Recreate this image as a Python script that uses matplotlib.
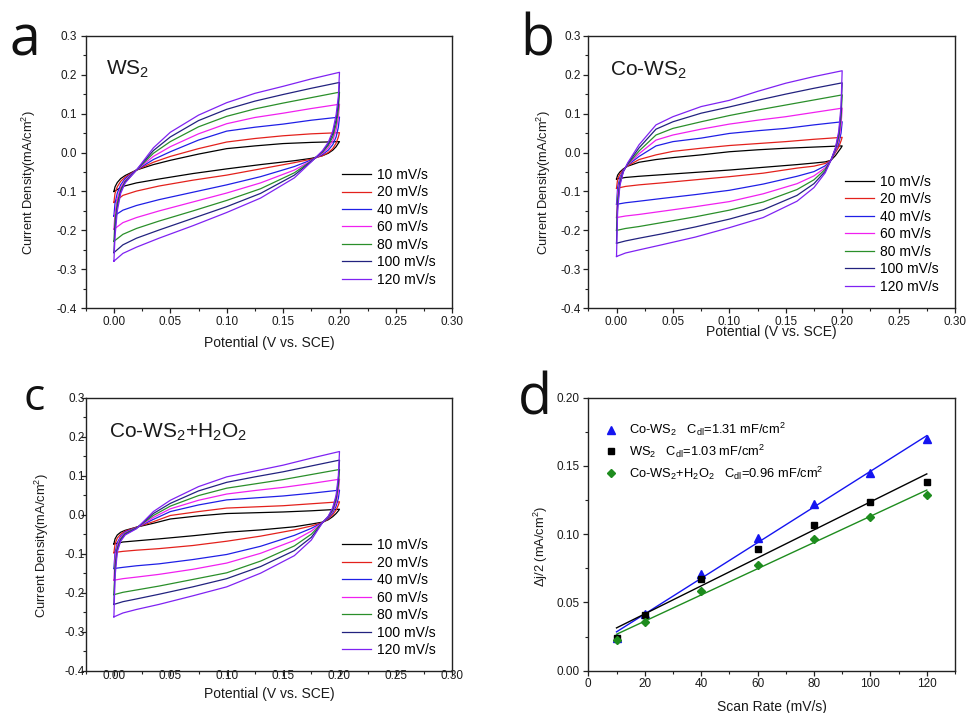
import matplotlib

matplotlib.use("Agg")

import matplotlib.pyplot as plt
import numpy as np
from matplotlib.ticker import FormatStrFormatter, MultipleLocator

plt.rcParams["font.family"] = ["Liberation Sans", "DejaVu Sans"]
plt.rcParams["mathtext.fontset"] = "custom"
plt.rcParams["mathtext.rm"] = "Liberation Sans"
plt.rcParams["mathtext.it"] = "Liberation Sans:italic"
plt.rcParams["axes.unicode_minus"] = False

# scan rates shared by the three CV panels
scan_labels = ["10 mV/s", "20 mV/s", "40 mV/s", "60 mV/s", "80 mV/s", "100 mV/s", "120 mV/s"]

# potential grid (V vs. SCE) read along the forward and reverse sweeps
x_fwd = [0.000, 0.001, 0.003, 0.006, 0.010, 0.020, 0.035, 0.050, 0.075, 0.100, 0.125, 0.150, 0.175, 0.200]
x_rev = [0.200, 0.199, 0.197, 0.194, 0.190, 0.185, 0.175, 0.160, 0.130, 0.100, 0.070, 0.040, 0.020, 0.008, 0.000]

# panel a: WS2 (mA/cm2), one row per scan rate
ws2_fwd = [
    [-0.100, -0.088, -0.077, -0.067, -0.059, -0.045, -0.031, -0.020, -0.004, 0.010, 0.017, 0.023, 0.026, 0.028],
    [-0.128, -0.105, -0.088, -0.074, -0.063, -0.045, -0.025, -0.010, 0.010, 0.027, 0.036, 0.043, 0.048, 0.051],
    [-0.163, -0.130, -0.104, -0.083, -0.067, -0.045, -0.018, 0.002, 0.032, 0.055, 0.065, 0.073, 0.083, 0.091],
    [-0.197, -0.155, -0.118, -0.090, -0.071, -0.045, -0.010, 0.015, 0.048, 0.074, 0.090, 0.101, 0.113, 0.124],
    [-0.228, -0.175, -0.130, -0.096, -0.074, -0.045, -0.002, 0.028, 0.066, 0.093, 0.112, 0.127, 0.141, 0.155],
    [-0.257, -0.195, -0.140, -0.100, -0.076, -0.045, 0.005, 0.040, 0.082, 0.111, 0.132, 0.149, 0.165, 0.180],
    [-0.279, -0.215, -0.150, -0.105, -0.078, -0.045, 0.012, 0.052, 0.096, 0.128, 0.152, 0.170, 0.189, 0.206],
]
ws2_rev = [
    [0.028, 0.024, 0.015, 0.006, -0.002, -0.008, -0.015, -0.021, -0.031, -0.042, -0.054, -0.068, -0.078, -0.087, -0.100],
    [0.051, 0.040, 0.024, 0.010, 0.000, -0.008, -0.017, -0.026, -0.042, -0.058, -0.071, -0.086, -0.099, -0.110, -0.128],
    [0.091, 0.065, 0.040, 0.020, 0.006, -0.005, -0.019, -0.036, -0.062, -0.083, -0.102, -0.121, -0.136, -0.148, -0.163],
    [0.124, 0.090, 0.058, 0.030, 0.012, -0.002, -0.021, -0.045, -0.078, -0.104, -0.127, -0.150, -0.167, -0.180, -0.197],
    [0.155, 0.110, 0.072, 0.040, 0.018, 0.001, -0.022, -0.052, -0.093, -0.123, -0.150, -0.176, -0.195, -0.210, -0.228],
    [0.180, 0.128, 0.085, 0.048, 0.022, 0.003, -0.023, -0.058, -0.105, -0.139, -0.169, -0.199, -0.220, -0.237, -0.257],
    [0.206, 0.145, 0.097, 0.055, 0.026, 0.005, -0.024, -0.065, -0.117, -0.154, -0.188, -0.220, -0.243, -0.259, -0.279],
]

# panel b: Co-WS2
cows2_fwd = [
    [-0.068, -0.058, -0.050, -0.042, -0.035, -0.025, -0.018, -0.013, -0.006, 0.002, 0.007, 0.011, 0.014, 0.017],
    [-0.092, -0.068, -0.055, -0.044, -0.034, -0.018, -0.006, 0.003, 0.011, 0.018, 0.023, 0.028, 0.034, 0.039],
    [-0.133, -0.090, -0.064, -0.045, -0.032, -0.010, 0.017, 0.028, 0.037, 0.049, 0.056, 0.062, 0.071, 0.079],
    [-0.167, -0.105, -0.070, -0.047, -0.031, -0.003, 0.032, 0.045, 0.060, 0.073, 0.083, 0.092, 0.103, 0.114],
    [-0.200, -0.120, -0.075, -0.048, -0.030, 0.004, 0.045, 0.062, 0.079, 0.095, 0.109, 0.122, 0.135, 0.148],
    [-0.233, -0.135, -0.080, -0.049, -0.028, 0.012, 0.060, 0.079, 0.101, 0.117, 0.134, 0.150, 0.165, 0.179],
    [-0.267, -0.150, -0.085, -0.050, -0.026, 0.020, 0.071, 0.092, 0.118, 0.134, 0.157, 0.178, 0.195, 0.210],
]
cows2_rev = [
    [0.017, 0.012, 0.004, -0.008, -0.020, -0.024, -0.027, -0.031, -0.038, -0.045, -0.051, -0.057, -0.061, -0.064, -0.068],
    [0.039, 0.030, 0.014, 0.000, -0.020, -0.028, -0.035, -0.040, -0.053, -0.062, -0.070, -0.078, -0.083, -0.087, -0.092],
    [0.079, 0.050, 0.024, 0.003, -0.020, -0.034, -0.049, -0.061, -0.081, -0.097, -0.108, -0.118, -0.125, -0.129, -0.133],
    [0.114, 0.070, 0.032, 0.005, -0.020, -0.039, -0.060, -0.080, -0.106, -0.126, -0.139, -0.151, -0.159, -0.163, -0.167],
    [0.148, 0.090, 0.040, 0.008, -0.020, -0.043, -0.070, -0.095, -0.127, -0.148, -0.165, -0.180, -0.190, -0.195, -0.200],
    [0.179, 0.105, 0.048, 0.010, -0.020, -0.048, -0.080, -0.110, -0.147, -0.171, -0.191, -0.209, -0.220, -0.227, -0.233],
    [0.210, 0.120, 0.055, 0.012, -0.020, -0.052, -0.090, -0.125, -0.167, -0.193, -0.217, -0.237, -0.250, -0.258, -0.267],
]

# panel c: Co-WS2 + H2O2
cows2h_fwd = [
    [-0.075, -0.062, -0.052, -0.045, -0.040, -0.032, -0.022, -0.011, -0.003, 0.003, 0.005, 0.007, 0.010, 0.014],
    [-0.098, -0.075, -0.060, -0.050, -0.042, -0.032, -0.018, -0.002, 0.008, 0.017, 0.020, 0.023, 0.028, 0.033],
    [-0.138, -0.098, -0.072, -0.055, -0.044, -0.033, -0.012, 0.008, 0.025, 0.038, 0.043, 0.048, 0.055, 0.063],
    [-0.168, -0.112, -0.078, -0.058, -0.046, -0.034, -0.007, 0.015, 0.037, 0.053, 0.062, 0.070, 0.080, 0.091],
    [-0.205, -0.130, -0.085, -0.062, -0.048, -0.034, -0.002, 0.022, 0.049, 0.068, 0.079, 0.090, 0.103, 0.116],
    [-0.230, -0.145, -0.090, -0.065, -0.050, -0.035, 0.003, 0.029, 0.061, 0.083, 0.097, 0.110, 0.125, 0.140],
    [-0.262, -0.160, -0.095, -0.068, -0.052, -0.036, 0.008, 0.037, 0.072, 0.097, 0.112, 0.127, 0.145, 0.162],
]
cows2h_rev = [
    [0.014, 0.010, 0.003, -0.005, -0.013, -0.019, -0.024, -0.031, -0.039, -0.045, -0.054, -0.062, -0.067, -0.070, -0.075],
    [0.033, 0.025, 0.012, 0.000, -0.011, -0.020, -0.029, -0.039, -0.055, -0.068, -0.079, -0.087, -0.091, -0.094, -0.097],
    [0.063, 0.042, 0.022, 0.005, -0.009, -0.020, -0.035, -0.053, -0.081, -0.102, -0.115, -0.126, -0.131, -0.135, -0.138],
    [0.091, 0.060, 0.030, 0.009, -0.007, -0.020, -0.042, -0.066, -0.099, -0.124, -0.140, -0.153, -0.160, -0.164, -0.168],
    [0.116, 0.075, 0.038, 0.012, -0.006, -0.020, -0.050, -0.080, -0.119, -0.149, -0.166, -0.183, -0.193, -0.199, -0.205],
    [0.140, 0.088, 0.044, 0.015, -0.005, -0.020, -0.058, -0.092, -0.133, -0.164, -0.185, -0.204, -0.216, -0.223, -0.230],
    [0.162, 0.100, 0.050, 0.018, -0.004, -0.020, -0.065, -0.105, -0.150, -0.185, -0.208, -0.230, -0.243, -0.252, -0.262],
]

# panel d: half current-density difference vs scan rate
scan_rate = [10, 20, 40, 60, 80, 100, 120]
dj_cows2 = [0.0242, 0.0413, 0.0706, 0.0970, 0.1220, 0.1450, 0.1695]
dj_ws2 = [0.0237, 0.0408, 0.0672, 0.0890, 0.1067, 0.1233, 0.1380]
dj_cows2h = [0.0225, 0.0359, 0.0584, 0.0777, 0.0962, 0.1128, 0.1290]

CV_COLORS = ["#000000", "#e3211c", "#1f1fe6", "#f020f0", "#2a8f2a", "#22227f", "#7f22f2"]
TXT = "#1a1a1a"


def style_axes(ax):
    for side in ax.spines.values():
        side.set_linewidth(1.0)
        side.set_color("#222222")
    ax.tick_params(which="both", direction="out", top=False, right=False, colors="#222222",
                   labelcolor=TXT, labelsize=8.5)
    ax.tick_params(which="major", length=3.5, width=0.9)
    ax.tick_params(which="minor", length=2.0, width=0.8)


def cv_panel(ax, fwd, rev, name, name_xy, legend_top, xpad, ypad, xlabel_y, ylabel_x):
    for lab, col, yf, yr in zip(scan_labels, CV_COLORS, fwd, rev):
        ax.plot(x_fwd + x_rev, yf + yr, color=col, lw=0.9, label=lab)
    ax.set_xlim(-0.025, 0.30)
    ax.set_ylim(-0.4, 0.3)
    ax.xaxis.set_major_locator(MultipleLocator(0.05))
    ax.xaxis.set_minor_locator(MultipleLocator(0.025))
    ax.yaxis.set_major_locator(MultipleLocator(0.1))
    ax.yaxis.set_minor_locator(MultipleLocator(0.05))
    ax.xaxis.set_major_formatter(FormatStrFormatter("%.2f"))
    ax.yaxis.set_major_formatter(FormatStrFormatter("%.1f"))
    style_axes(ax)
    ax.tick_params(axis="x", which="major", pad=xpad)
    ax.tick_params(axis="y", which="major", pad=ypad)
    ax.text(name_xy[0], name_xy[1], name, fontsize=15, color=TXT, va="baseline", ha="left")
    ax.set_xlabel("Potential (V vs. SCE)", fontsize=10, color=TXT)
    ax.xaxis.set_label_coords(0.5, xlabel_y)
    ax.xaxis.label.set_verticalalignment("center")
    ax.set_ylabel(r"Current Density(mA/cm$^{2}$)", fontsize=9.3, color=TXT)
    ax.yaxis.set_label_coords(ylabel_x, 0.46)
    ax.yaxis.label.set_rotation_mode("default")
    ax.yaxis.label.set_verticalalignment("center")
    ax.legend(loc="upper left", bbox_to_anchor=(0.70, legend_top), frameon=False, fontsize=10,
              handlelength=2.1, handletextpad=0.4, labelspacing=0.25, borderpad=0, borderaxespad=0)


W, H = 968, 713
fig = plt.figure(figsize=(W / 100, H / 100), dpi=100)


def box(left, top, right, bottom):
    return [left / W, 1 - bottom / H, (right - left) / W, (bottom - top) / H]


ax_a = fig.add_axes(box(85.7, 35.7, 452.3, 308.3))
ax_b = fig.add_axes(box(588.3, 35.7, 955.0, 308.3))
ax_c = fig.add_axes(box(85.7, 397.7, 452.3, 670.7))
ax_d = fig.add_axes(box(588.3, 397.7, 955.0, 670.7))

cv_panel(ax_a, ws2_fwd, ws2_rev, r"WS$\mathregular{_2}$", (-0.007, 0.199), 0.515, 2.0, 3.0, -0.128, -0.154)
cv_panel(ax_b, cows2_fwd, cows2_rev, r"Co-WS$\mathregular{_2}$", (-0.006, 0.197), 0.49, 2.0, 2.0, -0.086, -0.121)
cv_panel(ax_c, cows2h_fwd, cows2h_rev, r"Co-WS$\mathregular{_2}$+H$\mathregular{_2}$O$\mathregular{_2}$",
         (-0.004, 0.198), 0.485, -4.0, -3.0, -0.086, -0.12)

# panel d
series = [
    (dj_cows2, "#1414f0", "^", 5.5, r"Co-WS$\mathregular{_2}$   C$\mathregular{_{dl}}$=1.31 mF/cm$^{2}$"),
    (dj_ws2, "#000000", "s", 4.5, r"WS$\mathregular{_2}$   C$\mathregular{_{dl}}$=1.03 mF/cm$^{2}$"),
    (dj_cows2h, "#1e8c1e", "D", 4.5,
     r"Co-WS$\mathregular{_2}$+H$\mathregular{_2}$O$\mathregular{_2}$   C$\mathregular{_{dl}}$=0.96 mF/cm$^{2}$"),
]
rate = np.array(scan_rate, dtype=float)
for vals, col, mk, ms, lab in series:
    slope, icpt = np.polyfit(rate, vals, 1)
    ax_d.plot([rate[0], rate[-1]], [icpt + slope * rate[0], icpt + slope * rate[-1]], color=col, lw=1.0)
    ax_d.plot(rate, vals, ls="none", marker=mk, ms=ms, color=col, label=lab)
ax_d.set_xlim(0, 130)
ax_d.set_ylim(0, 0.20)
ax_d.xaxis.set_major_locator(MultipleLocator(20))
ax_d.xaxis.set_minor_locator(MultipleLocator(10))
ax_d.yaxis.set_major_locator(MultipleLocator(0.05))
ax_d.yaxis.set_minor_locator(MultipleLocator(0.025))
ax_d.yaxis.set_major_formatter(FormatStrFormatter("%.2f"))
style_axes(ax_d)
ax_d.tick_params(axis="x", which="major", pad=2.0)
ax_d.tick_params(axis="y", which="major", pad=3.0)
ax_d.set_xlabel("Scan Rate (mV/s)", fontsize=10, color=TXT)
ax_d.xaxis.set_label_coords(0.5, -0.132)
ax_d.xaxis.label.set_verticalalignment("center")
ax_d.set_ylabel(r"Δj/2 (mA/cm$^{2}$)", fontsize=9.3, color=TXT)
ax_d.yaxis.set_label_coords(-0.13, 0.455)
ax_d.yaxis.label.set_rotation_mode("default")
ax_d.yaxis.label.set_verticalalignment("center")
ax_d.legend(loc="upper left", bbox_to_anchor=(0.045, 0.915), frameon=False, fontsize=9.3,
            handlelength=1.0, handletextpad=0.9, labelspacing=0.35, borderpad=0, borderaxespad=0)

# panel letters
for letter, px, py, size in [("a", 10, 55, 40), ("b", 520, 55, 40), ("c", 24, 410, 32), ("d", 518, 415, 40)]:
    fig.text(px / W, 1 - py / H, letter, fontsize=size, family=["Open Sans", "DejaVu Sans"],
             va="baseline", ha="left", color="#111111")

fig.savefig("out.png", dpi=100)
